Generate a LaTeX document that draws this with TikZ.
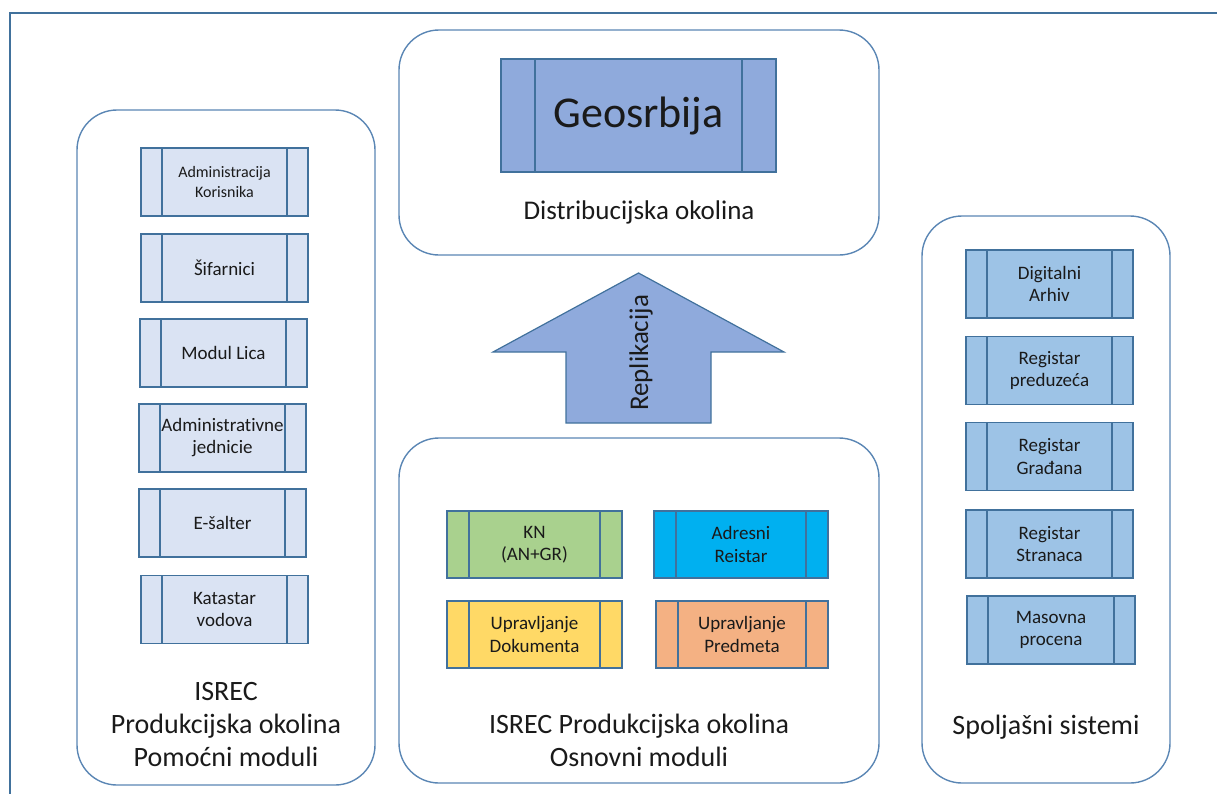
\documentclass[tikz,border=0pt]{standalone}
\usepackage{fontspec}
\setmainfont{Carlito}[Ligatures=NoCommon]
\definecolor{edgec}{HTML}{41719C}
\definecolor{contc}{HTML}{5A86B4}
\definecolor{lightb}{HTML}{DAE3F3}
\definecolor{midb}{HTML}{9DC3E6}
\definecolor{geob}{HTML}{8FAADC}
\definecolor{kng}{HTML}{A9D18E}
\definecolor{adrb}{HTML}{00B0F0}
\definecolor{doky}{HTML}{FFD966}
\definecolor{predo}{HTML}{F4B183}
\definecolor{txt}{HTML}{1A1A1A}
\begin{document}
\begin{tikzpicture}[x=1pt,y=-1pt,
  container/.style={draw=contc,line width=1.4pt,rounded corners=40pt},
  proc/.style={draw=edgec,line width=1.3pt,inner sep=0pt,text=txt,align=center,
    path picture={
      \draw[edgec,line width=1.3pt] ([xshift=#1]path picture bounding box.north west) -- ([xshift=#1]path picture bounding box.south west);
      \draw[edgec,line width=1.3pt] ([xshift=-#1]path picture bounding box.north east) -- ([xshift=-#1]path picture bounding box.south east);
    }},
  lbox/.style={proc=21pt,fill=lightb,minimum width=167pt,minimum height=68pt,font=\fontsize{19}{22}\selectfont},
  rbox/.style={proc=21pt,fill=midb,minimum width=167pt,minimum height=68pt,font=\fontsize{19}{22.5}\selectfont},
  cbox/.style={proc=22pt,minimum width=175pt,minimum height=67pt,font=\fontsize{19}{22.5}\selectfont},
  title/.style={text=txt,align=center,font=\fontsize{28}{33}\selectfont}
]
\useasboundingbox (0,0) rectangle (1217,793);
% outer frame
\draw[edgec,line width=2pt] (10,800) -- (10,13) -- (1225,13);

% left container
\node[container,minimum width=298pt,minimum height=675pt] (leftc) at (226,447.5) {};
\node[lbox,font=\fontsize{16}{19.5}\selectfont] (adm) at (224.5,182) {Administracija\\Korisnika};
\node[lbox] (sif) at (224.5,268) {Šifarnici};
\node[lbox] (lica) at (223.5,353) {Modul Lica};
\node[lbox] (admj) at (222.5,438) {Administrativne\\jednicie};
\node[lbox] (esal) at (222.5,523) {E-šalter};
\node[lbox] (kat) at (224.5,609.5) {Katastar\\vodova};
\node[title] (lt) at (226,725) {ISREC\\Produkcijska okolina\\Pomoćni moduli};

% top container
\node[container,minimum width=480pt,minimum height=225pt] (topc) at (639,142.5) {};
\node[proc=34pt,fill=geob,minimum width=275pt,minimum height=113pt,font=\fontsize{44}{52}\selectfont] (geo) at (638.5,115.5) {Geosrbija};
\node[text=txt,font=\fontsize{27}{32}\selectfont] (dist) at (639,212) {Distribucijska okolina};

% arrow
\draw[fill=geob,draw=edgec,line width=1.2pt,line join=miter] (638.5,273) -- (784,352) -- (711,352) -- (711,423) -- (566,423) -- (566,352) -- (493,352) -- cycle;
\node[rotate=90,text=txt,font=\fontsize{27}{32}\selectfont] (rep) at (641,353) {Replikacija};

% center bottom container
\node[container,minimum width=480pt,minimum height=345pt] (midc) at (639,610.5) {};
\node[cbox,fill=kng] (kn) at (534.5,544.5) {KN\\(AN+GR)};
\node[cbox,fill=adrb,minimum width=174pt] (adr) at (741,544.5) {Adresni\\Reistar};
\node[cbox,fill=doky] (dok) at (534.5,634.5) {Upravljanje\\Dokumenta};
\node[cbox,fill=predo,minimum width=172pt] (pred) at (742,634.5) {Upravljanje\\Predmeta};
\node[title] (mt) at (639,740) {ISREC Produkcijska okolina\\Osnovni moduli};

% right container
\node[container,minimum width=248pt,minimum height=567pt] (rightc) at (1046,499.5) {};
\node[rbox] (dig) at (1049.5,284) {Digitalni\\Arhiv};
\node[rbox] (pre) at (1049.5,370.5) {Registar\\preduzeća};
\node[rbox] (gra) at (1049.5,456.5) {Registar\\Građana};
\node[rbox] (str) at (1049.5,544) {Registar\\Stranaca};
\node[rbox,minimum width=168pt] (mas) at (1051,630) {Masovna\\procena};
\node[title] (rt) at (1046,727) {Spoljašni sistemi};
\end{tikzpicture}
\end{document}
